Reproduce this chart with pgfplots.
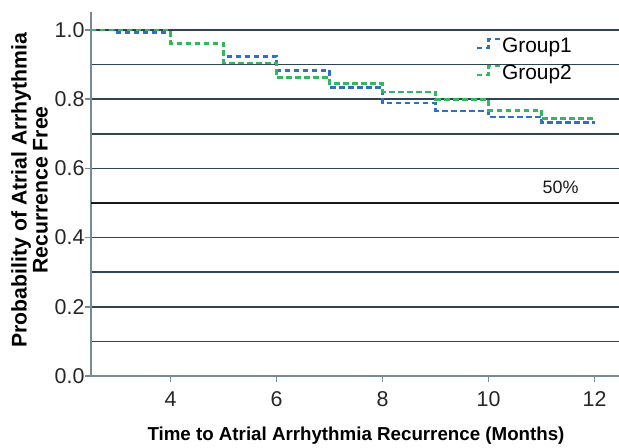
\documentclass[border=0pt]{standalone}
\usepackage{fontspec}
\setmainfont{Liberation Sans}
\usepackage{pgfplots}
\pgfplotsset{compat=1.18}
\definecolor{gblue}{HTML}{3070C2}
\definecolor{ggreen}{HTML}{2FB85E}
\definecolor{gridc}{HTML}{2F4552}
\definecolor{axc}{HTML}{7A8A94}
\begin{document}
\begin{tikzpicture}
\begin{axis}[
  scale only axis,
  width=530bp, height=364bp,
  xmin=2.5, xmax=12.5,
  ymin=0, ymax=1.052,
  axis x line*=bottom,
  axis y line*=left,
  axis line style={axc, line width=2bp},
  xtick={4,6,8,10,12},
  ytick={0,0.2,0.4,0.6,0.8,1.0},
  minor ytick={0.1,0.3,0.5,0.7,0.9},
  ymajorgrids, yminorgrids,
  major grid style={gridc, line width=1.6bp},
  minor grid style={gridc, line width=1.6bp},
  tick style={axc, line width=1.5bp},
  major tick length=6bp,
  minor tick length=0pt,
  xtick pos=bottom, ytick pos=left,
  tick align=outside,
  /pgf/number format/assume math mode=true,
  yticklabel style={xshift=3bp, /pgf/number format/.cd, fixed, fixed zerofill, precision=1},
  xticklabel style={yshift=-6bp},
  ticklabel style={font=\fontsize{21.5}{24}\selectfont, text=black!85},
  xlabel={\textbf{Time to Atrial Arrhythmia Recurrence (Months)}},
  xlabel style={font=\fontsize{18.8}{22}\selectfont, at={(axis description cs:0.5,-0.165)}, anchor=center},
  ylabel={\textbf{Probability of Atrial Arrhythmia}\\\textbf{Recurrence Free}},
  ylabel style={font=\fontsize{21.3}{21}\selectfont, align=center, at={(axis description cs:-0.116,0.511)}, anchor=center},
  legend style={at={(axis description cs:0.725,0.935)}, anchor=north west, draw=none, fill=none,
    font=\fontsize{21}{24}\selectfont, row sep=7bp, inner sep=0pt,
    /tikz/every even column/.append style={column sep=2bp}},
  legend cell align=left,
  legend image code/.code={\draw[#1] (0bp,-2bp) -- (12bp,-2bp) -- (12bp,7bp) -- (22bp,7bp) -- (22bp,2bp);},
  clip=false,
]
\addplot[black!90, line width=2bp, forget plot] coordinates {(2.5,0.5) (12.5,0.5)};
\addplot[const plot, gblue, line width=2.6bp, dash pattern=on 5.5bp off 3.5bp] coordinates {
  (2.5,1.0) (2.92,0.993) (4,0.961) (5,0.924) (6,0.883) (7,0.833) (8,0.789) (9,0.766) (10,0.749) (11,0.732) (12,0.732)};
\addlegendentry{Group1}
\addplot[const plot, ggreen, line width=2.6bp, dash pattern=on 5.5bp off 3.5bp] coordinates {
  (2.5,1.0) (4,0.961) (5,0.905) (6,0.862) (7,0.845) (8,0.821) (9,0.799) (10,0.768) (11,0.744) (12,0.744)};
\addlegendentry{Group2}
\node[font=\fontsize{18}{20}\selectfont, text=black!90] at (axis cs:11.36,0.545) {50\%};
\end{axis}
\pgfresetboundingbox
\path[use as bounding box] (-91bp,-72bp) rectangle (528bp,376bp);
\end{tikzpicture}
\end{document}
